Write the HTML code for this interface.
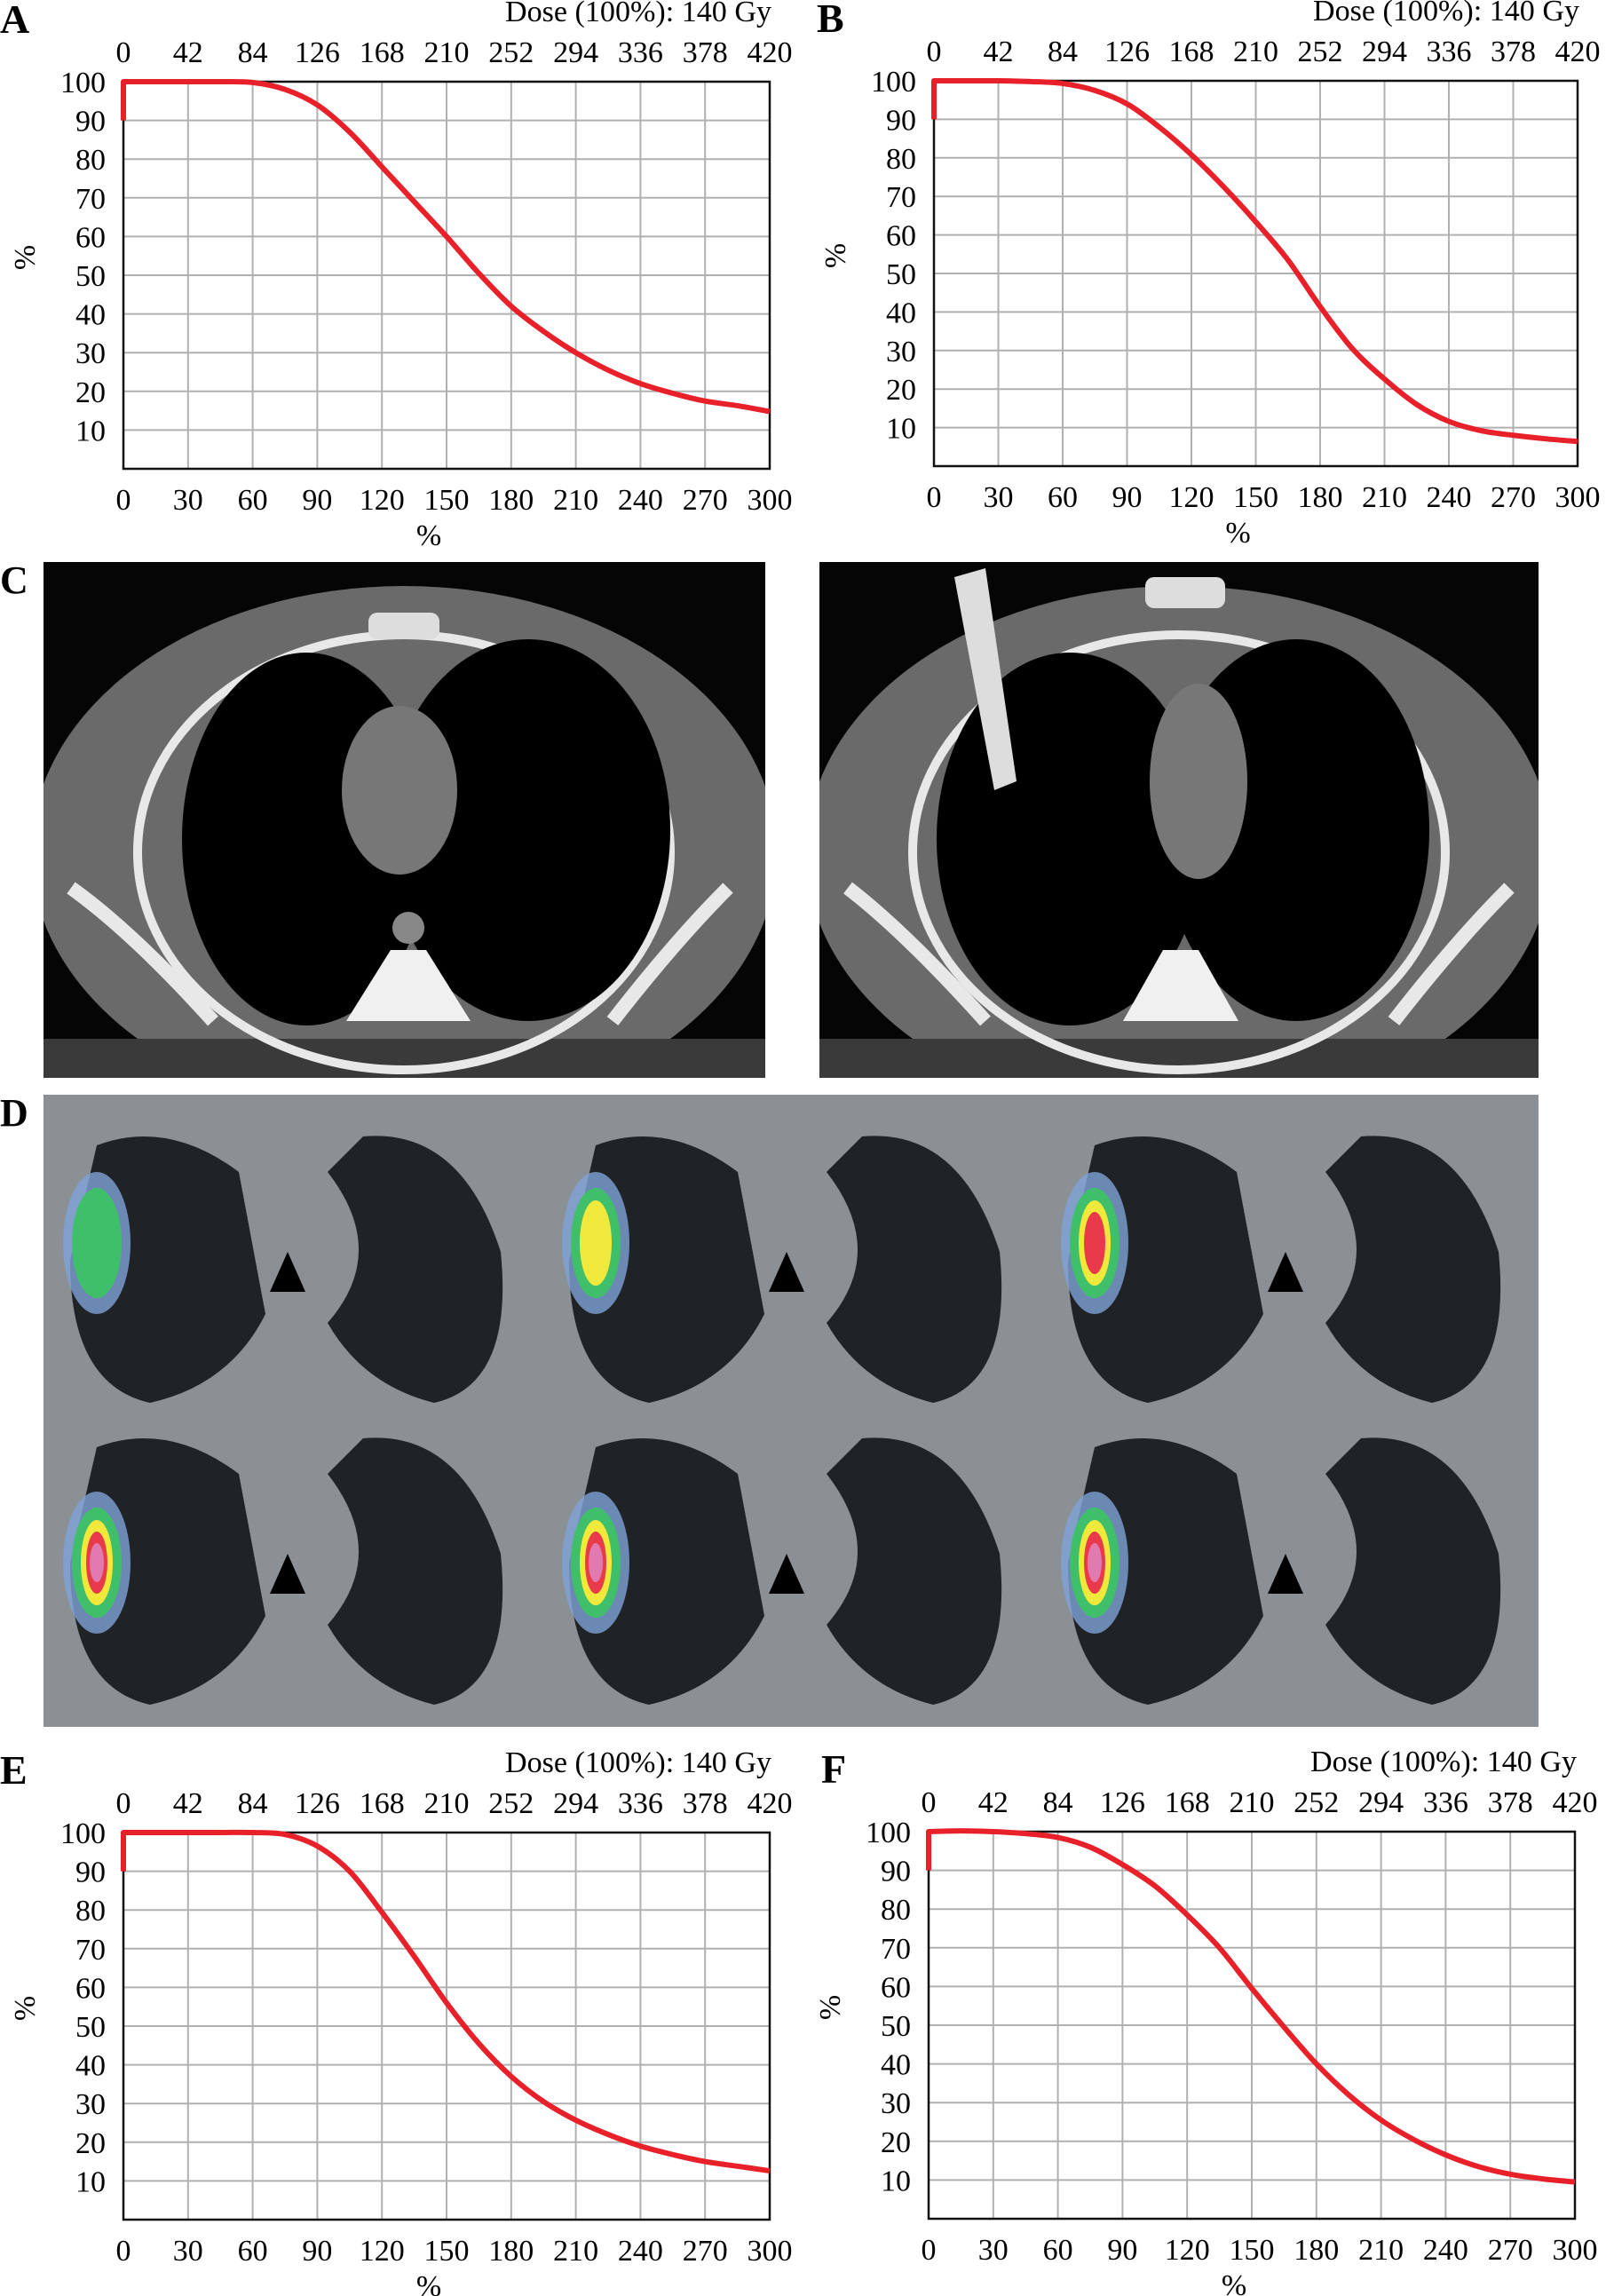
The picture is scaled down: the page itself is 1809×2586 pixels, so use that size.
<!DOCTYPE html>
<html><head><meta charset="utf-8"><title>DVH figure</title>
<style>
html,body{margin:0;padding:0;background:#fff;}
svg{display:block;font-family:"Liberation Serif",serif;}
</style></head>
<body>
<svg id="fig" width="1809" height="2586" viewBox="0 0 1809 2586" xmlns="http://www.w3.org/2000/svg">
<defs>
  <clipPath id="clipCL"><rect x="49" y="633" width="813" height="581"/></clipPath>
  <clipPath id="clipCR"><rect x="923" y="633" width="810" height="581"/></clipPath>
</defs>
<rect width="1809" height="2586" fill="#fff"/>

<!-- C: CT images -->
<g>
  <text x="0" y="668" font-size="44" font-weight="bold">C</text>
  <g clip-path="url(#clipCL)">
    <rect x="49" y="633" width="813" height="581" fill="#050505"/>
    <ellipse cx="455" cy="960" rx="420" ry="300" fill="#6a6a6a"/>
    <rect x="49" y="1170" width="813" height="44" fill="#3a3a3a"/>
    <ellipse cx="455" cy="960" rx="300" ry="245" fill="none" stroke="#e8e8e8" stroke-width="10"/>
    <ellipse cx="345" cy="945" rx="140" ry="210" fill="#000"/>
    <ellipse cx="595" cy="935" rx="160" ry="215" fill="#000"/>
    <ellipse cx="450" cy="890" rx="65" ry="95" fill="#777"/>
    <polygon points="440,1070 480,1070 530,1150 390,1150" fill="#f0f0f0"/>
    <circle cx="460" cy="1045" r="18" fill="#888"/>
    <rect x="415" y="690" width="80" height="30" rx="10" fill="#ddd"/>
    <path d="M80,1000 Q150,1050 240,1150" stroke="#e8e8e8" stroke-width="16" fill="none"/>
    <path d="M820,1000 Q760,1060 690,1150" stroke="#e8e8e8" stroke-width="16" fill="none"/>
  </g>
  <g clip-path="url(#clipCR)">
    <rect x="923" y="633" width="810" height="581" fill="#050505"/>
    <ellipse cx="1328" cy="960" rx="420" ry="300" fill="#6a6a6a"/>
    <rect x="923" y="1170" width="810" height="44" fill="#3a3a3a"/>
    <ellipse cx="1328" cy="960" rx="300" ry="245" fill="none" stroke="#e8e8e8" stroke-width="10"/>
    <ellipse cx="1205" cy="945" rx="150" ry="210" fill="#000"/>
    <ellipse cx="1460" cy="935" rx="150" ry="215" fill="#000"/>
    <ellipse cx="1350" cy="880" rx="55" ry="110" fill="#777"/>
    <polygon points="1310,1070 1350,1070 1395,1150 1265,1150" fill="#f0f0f0"/>
    <rect x="1290" y="650" width="90" height="35" rx="10" fill="#ddd"/>
    <polygon points="1075,650 1110,640 1145,880 1120,890" fill="#ddd"/>
    <path d="M955,1000 Q1020,1050 1110,1150" stroke="#e8e8e8" stroke-width="16" fill="none"/>
    <path d="M1700,1000 Q1640,1060 1570,1150" stroke="#e8e8e8" stroke-width="16" fill="none"/>
  </g>
</g>

<!-- D: PET/CT montage -->
<g id="panelD">
  <text x="0" y="1268" font-size="44" font-weight="bold">D</text>
  <rect x="49" y="1233" width="1684" height="712" fill="#8b9094"/>
</g>

<g id="charts"></g>
</svg>

<script>
// ---- chart data ----
const xPercentTicks = [0, 30, 60, 90, 120, 150, 180, 210, 240, 270, 300];
const doseTicks = [0, 42, 84, 126, 168, 210, 252, 294, 336, 378, 420];
const yTicks = [10, 20, 30, 40, 50, 60, 70, 80, 90, 100];
const curveX = [0, 15, 30, 45, 60, 75, 90, 105, 120, 135, 150, 165, 180, 195, 210, 225, 240, 255, 270, 285, 300];
const seriesA = [100, 100, 100, 100, 99.8, 98, 94, 87, 78, 69, 60, 50.5, 42, 35.5, 30, 25.5, 22, 19.5, 17.5, 16.3, 14.8];
const seriesB = [100, 100, 100, 99.8, 99.3, 97.5, 94, 88, 80.8, 72.5, 63.4, 53.5, 41.4, 30.5, 22.6, 16, 11.6, 9.2, 8, 7.1, 6.4];
const seriesE = [100, 100, 100, 100, 100, 99.5, 96.5, 90, 79.4, 68, 56, 45.5, 37, 30.5, 25.7, 22, 19, 16.8, 15, 13.8, 12.6];
const seriesF = [100, 100.2, 100, 99.5, 98.5, 96, 91.5, 86, 78.5, 70, 59.5, 49.5, 40, 32, 25.5, 20.5, 16.5, 13.5, 11.5, 10.3, 9.5];
const doseLabel = "Dose (100%): 140 Gy";

const NS = "http://www.w3.org/2000/svg";
function mk(tag, attrs, parent) {
  const e = document.createElementNS(NS, tag);
  for (const k in attrs) e.setAttribute(k, attrs[k]);
  if (parent) parent.appendChild(e);
  return e;
}

function drawChart(letter, letterX, x0, x1, y0, y1, series) {
  const root = document.getElementById('charts');
  const g = mk('g', {}, root);
  
  
  const sx = v => x0 + (v - 0) / 300 * (x1 - x0);
  const sy = v => y1 - v / 100 * (y1 - y0);

  const lt = mk('text', {x: letterX, y: y0 - 55, 'font-size': 46, 'font-weight': 'bold'}, g);
  lt.textContent = letter;
  
  

  const dt = mk('text', {x: x1 + 2, y: y0 - 68, 'font-size': 34, 'text-anchor': 'end', textLength: 300, lengthAdjust: 'spacingAndGlyphs'}, g);
  dt.textContent = doseLabel;
  
  

  xPercentTicks.forEach(t => {
    if (t === 0 || t === 300) return;
    const l = mk('line', {x1: sx(t), x2: sx(t), y1: y0, y2: y1, stroke: '#b0b0b0', 'stroke-width': 2}, g);
    
    
  });
  yTicks.forEach(t => {
    if (t === 100) return;
    const l = mk('line', {x1: x0, x2: x1, y1: sy(t), y2: sy(t), stroke: '#b0b0b0', 'stroke-width': 2}, g);
    
    
  });
  const fr = mk('rect', {x: x0, y: y0, width: x1 - x0, height: y1 - y0, fill: 'none', stroke: '#111', 'stroke-width': 2.5}, g);
  
  

  xPercentTicks.forEach(t => {
    const tx = mk('text', {x: sx(t), y: y1 + 46, 'font-size': 34, 'text-anchor': 'middle'}, g);
    tx.textContent = t;
    
    
  });
  doseTicks.forEach((t, i) => {
    const tx = mk('text', {x: sx(xPercentTicks[i]), y: y0 - 22, 'font-size': 34, 'text-anchor': 'middle'}, g);
    tx.textContent = t;
    
    
  });
  yTicks.forEach(t => {
    const tx = mk('text', {x: x0 - 20, y: sy(t) + 12, 'font-size': 34, 'text-anchor': 'end'}, g);
    tx.textContent = t;
    
    
  });
  const xl = mk('text', {x: (x0 + x1) / 2 - 20, y: y1 + 86, 'font-size': 34, 'text-anchor': 'middle'}, g);
  xl.textContent = '%';
  
  
  const yx = x0 - 100, yy = (y0 + y1) / 2 - 20;
  const yl = mk('text', {x: yx, y: yy, 'font-size': 34, 'text-anchor': 'middle', transform: 'rotate(-90 ' + yx + ' ' + yy + ')'}, g);
  yl.textContent = '%';
  
  

  let d = 'M' + sx(0) + ' ' + sy(90) + ' L' + sx(0) + ' ' + sy(series[0]);
  const pts = curveX.map((x, i) => [sx(x), sy(series[i])]);
  for (let i = 0; i < pts.length - 1; i++) {
    const p0 = pts[Math.max(0, i - 1)], p1 = pts[i], p2 = pts[i + 1], p3 = pts[Math.min(pts.length - 1, i + 2)];
    const c1 = [p1[0] + (p2[0] - p0[0]) / 6, p1[1] + (p2[1] - p0[1]) / 6];
    const c2 = [p2[0] - (p3[0] - p1[0]) / 6, p2[1] - (p3[1] - p1[1]) / 6];
    d += ' C' + c1[0] + ' ' + c1[1] + ' ' + c2[0] + ' ' + c2[1] + ' ' + p2[0] + ' ' + p2[1];
  }
  const path = mk('path', {d: d, fill: 'none', stroke: '#e8202a', 'stroke-width': 6, 'stroke-linejoin': 'round'}, g);
  
  
}

drawChart('A', 0, 139, 867, 92, 528, seriesA);
drawChart('B', 920, 1052, 1777, 91, 525, seriesB);
drawChart('E', 0, 139, 867, 2064, 2500, seriesE);
drawChart('F', 925, 1046, 1774, 2063, 2499, seriesF);

(function () {
  const D = document.getElementById('panelD');
  const rows = [1250, 1590];
  const cols = [49, 611, 1173];
  rows.forEach((ry, r) => {
    cols.forEach((cx, c) => {
      const lx = cx + 20, top = ry + 10;
      const right = mk('path', {d: 'M' + (lx + 40) + ' ' + (top + 30) + ' Q' + (lx + 120) + ' ' + top + ' ' + (lx + 200) + ' ' + (top + 60) + ' L' + (lx + 230) + ' ' + (top + 220) + ' Q' + (lx + 190) + ' ' + (top + 300) + ' ' + (lx + 100) + ' ' + (top + 320) + ' Q' + (lx + 10) + ' ' + (top + 300) + ' ' + (lx + 10) + ' ' + (top + 160) + ' Z', fill: '#1f2326'}, D);
      
      
      const lx2 = cx + 300;
      const left = mk('path', {d: 'M' + (lx2 + 60) + ' ' + (top + 20) + ' Q' + (lx2 + 170) + ' ' + (top + 10) + ' ' + (lx2 + 215) + ' ' + (top + 150) + ' Q' + (lx2 + 230) + ' ' + (top + 300) + ' ' + (lx2 + 140) + ' ' + (top + 320) + ' Q' + (lx2 + 60) + ' ' + (top + 300) + ' ' + (lx2 + 20) + ' ' + (top + 230) + ' Q' + (lx2 + 90) + ' ' + (top + 150) + ' ' + (lx2 + 20) + ' ' + (top + 60) + ' Z', fill: '#1f2326'}, D);
      
      
      const tri = mk('path', {d: 'M' + (lx + 255) + ' ' + (top + 150) + ' l20 45 l-40 0 z', fill: '#000'}, D);
      
      
      const hx = lx + 40, hy = top + (r === 0 ? 140 : 160);
      const blob = mk('g', {}, D);
      
      
      const level = r * 3 + c;
      mk('ellipse', {cx: hx, cy: hy, rx: 38, ry: 80, fill: '#7fa2d8', opacity: 0.8}, blob);
      mk('ellipse', {cx: hx, cy: hy, rx: 28, ry: 62, fill: '#3fbf6a'}, blob);
      if (level >= 1) mk('ellipse', {cx: hx, cy: hy, rx: 18, ry: 48, fill: '#f0e83a'}, blob);
      if (level >= 2) mk('ellipse', {cx: hx, cy: hy, rx: 12, ry: 35, fill: '#e83a4a'}, blob);
      if (level >= 3) mk('ellipse', {cx: hx, cy: hy, rx: 8, ry: 22, fill: '#e07ab0'}, blob);
    });
  });
})();
</script>
</body></html>
